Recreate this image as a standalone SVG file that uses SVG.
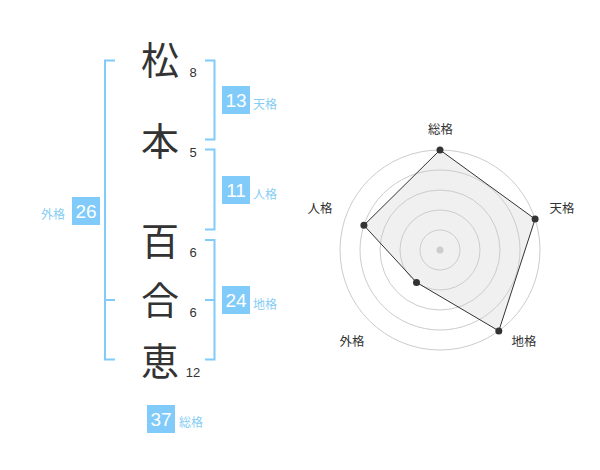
<svg xmlns="http://www.w3.org/2000/svg" width="600" height="470" viewBox="0 0 600 470">
<style>
.bg{fill:#ffffff}
.br{fill:none;stroke:#80cbfa;stroke-width:2}
.box{fill:#80cbfa}
.bn{font-family:"Liberation Sans",Arial,sans-serif;font-size:19px;fill:#ffffff;text-anchor:middle}
.lb{font-family:"Noto Sans CJK JP","Noto Sans CJK SC",sans-serif;font-size:12px;fill:#86cdf5}
.kj{font-family:"Noto Sans CJK JP","Noto Sans CJK SC",sans-serif;font-size:38px;fill:#333333;text-anchor:middle}
.sn{font-family:"Liberation Sans",Arial,sans-serif;font-size:13px;fill:#333333;text-anchor:middle}
.grid{fill:none;stroke:#cccccc;stroke-width:1}
.poly{fill:#cccccc;fill-opacity:0.3;stroke:#333333;stroke-width:1}
.pt{fill:#333333}
.rl{font-family:"Noto Sans CJK JP","Noto Sans CJK SC",sans-serif;font-size:12.5px;fill:#333333;text-anchor:middle}
</style>
<rect class="bg" x="0" y="0" width="600" height="470"/>
<g id="connectors">
<path class="br" d="M115,60.5 H105 V359.5 H115 M105,300 H115"/>
<path class="br" d="M205,60.5 H214.5 V139.5 H205"/>
<path class="br" d="M205,149.5 H214.5 V229.5 H205"/>
<path class="br" d="M205,240 H214.5 V359.5 H205 M205,300 H214.5"/>
</g>
<g id="char-1"><text class="kj" x="160" y="74">松</text><text class="sn" x="193" y="77">8</text></g>
<g id="char-2"><text class="kj" x="160" y="155">本</text><text class="sn" x="193" y="157">5</text></g>
<g id="char-3"><text class="kj" x="160" y="255">百</text><text class="sn" x="193" y="257">6</text></g>
<g id="char-4"><text class="kj" x="160" y="314">合</text><text class="sn" x="193" y="317">6</text></g>
<g id="char-5"><text class="kj" x="160" y="375">恵</text><text class="sn" x="193" y="377">12</text></g>
<g id="tenkaku"><rect class="box" x="222" y="86" width="28" height="28"/><text class="bn" x="236" y="107.3">13</text><text class="lb" x="253" y="108.5">天格</text></g>
<g id="jinkaku"><rect class="box" x="222" y="176" width="28" height="28"/><text class="bn" x="236" y="197.3">11</text><text class="lb" x="253" y="198.5">人格</text></g>
<g id="chikaku"><rect class="box" x="222" y="286" width="28" height="28"/><text class="bn" x="236" y="307.3">24</text><text class="lb" x="253" y="308.5">地格</text></g>
<g id="gaikaku"><rect class="box" x="72" y="197" width="28" height="28"/><text class="bn" x="86" y="218.3">26</text><text class="lb" x="41" y="218.5">外格</text></g>
<g id="soukaku"><rect class="box" x="147" y="405" width="28" height="28"/><text class="bn" x="161" y="426.3">37</text><text class="lb" x="179" y="427">総格</text></g>
<g id="radar">
<circle class="grid" cx="440" cy="250" r="20"/>
<circle class="grid" cx="440" cy="250" r="40"/>
<circle class="grid" cx="440" cy="250" r="60"/>
<circle class="grid" cx="440" cy="250" r="80"/>
<circle class="grid" cx="440" cy="250" r="100"/>
<circle cx="440" cy="250" r="3.5" fill="#cccccc"/>
<polygon class="poly" points="440,150 535.1,219.1 498.8,330.9 416.5,282.4 363.9,225.3"/>
<circle class="pt" cx="440" cy="150" r="3.5"/>
<circle class="pt" cx="535.1" cy="219.1" r="3.5"/>
<circle class="pt" cx="498.8" cy="330.9" r="3.5"/>
<circle class="pt" cx="416.5" cy="282.4" r="3.5"/>
<circle class="pt" cx="363.9" cy="225.3" r="3.5"/>
<text class="rl" x="440.5" y="134">総格</text>
<text class="rl" x="562" y="213">天格</text>
<text class="rl" x="524" y="346">地格</text>
<text class="rl" x="352" y="346">外格</text>
<text class="rl" x="320" y="213">人格</text>
</g>
</svg>
